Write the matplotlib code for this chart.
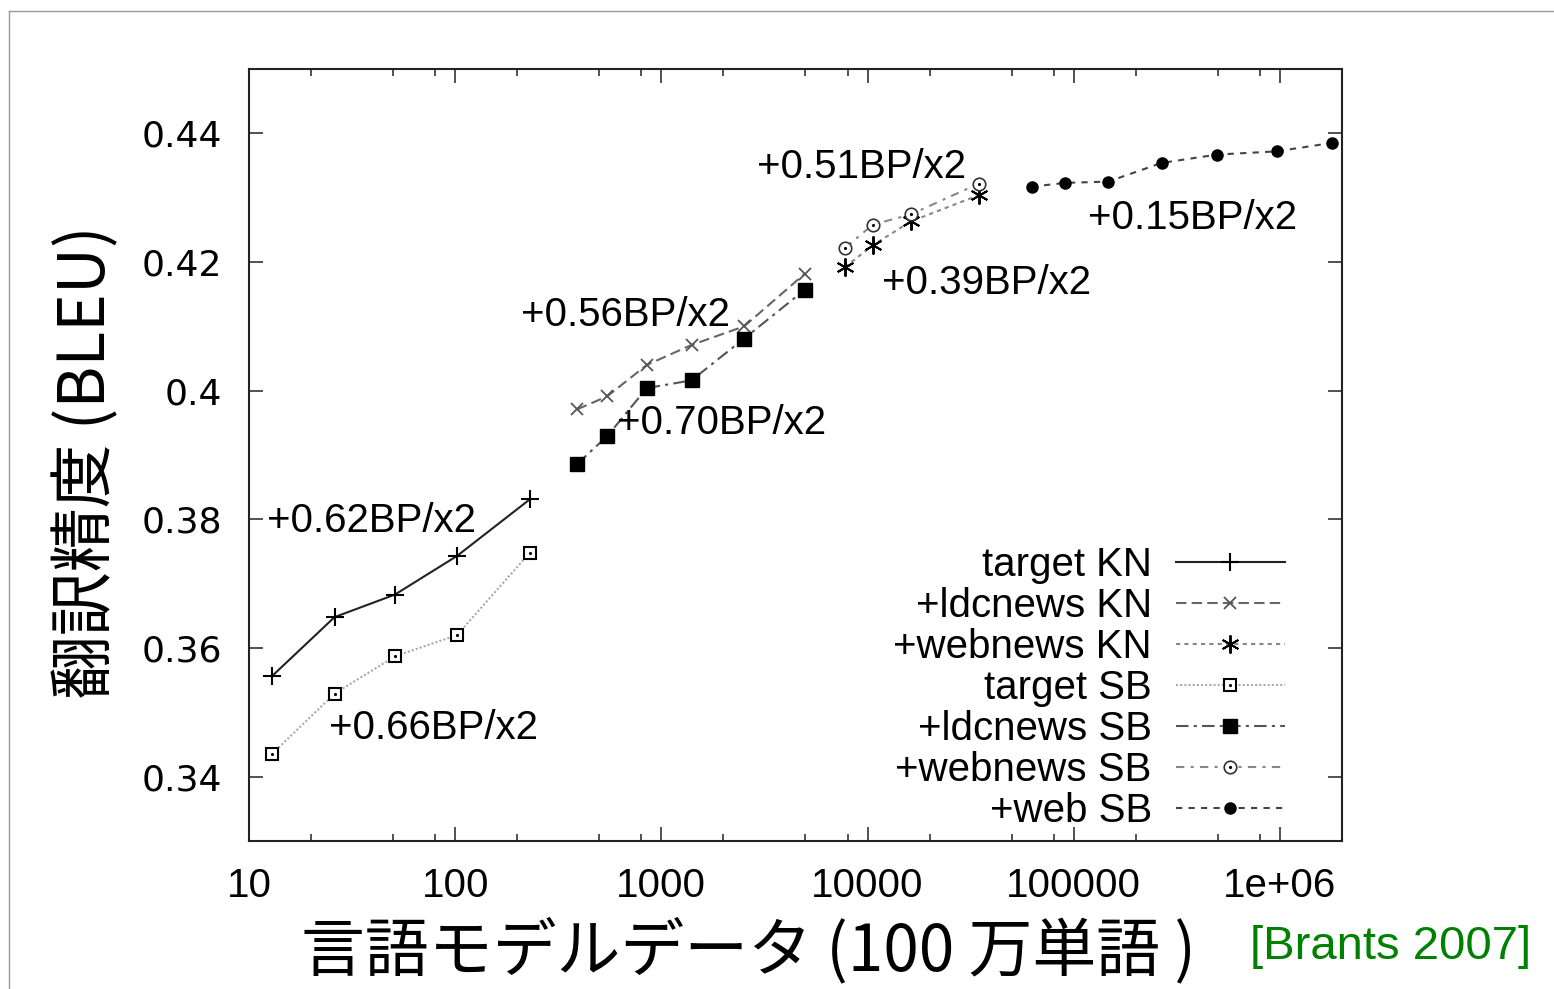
#!/usr/bin/env python3
"""BLEU vs. language model size (Brants 2007), redrawn with matplotlib."""

import matplotlib
matplotlib.use('Agg')
import matplotlib.pyplot as plt
from matplotlib.ticker import LogLocator, NullLocator, NullFormatter
from matplotlib.lines import Line2D

#--- DATA ---------------------------------------------------------------#

# target data (KN and SB share the x values)
target_x = [13, 26, 51, 102, 230]
target_kn = [0.3557, 0.3648, 0.3683, 0.3743, 0.3831]
target_sb = [0.3436, 0.3529, 0.3587, 0.3620, 0.3748]

# +ldcnews
ldc_x = [390, 545, 850, 1400, 2520, 4970]
ldc_kn = [0.3971, 0.3991, 0.4040, 0.4071, 0.4100, 0.4182]
ldc_sb = [0.3886, 0.3929, 0.4004, 0.4016, 0.4081, 0.4157]

# +webnews
wn_x = [7770, 10600, 16200, 34700]
wn_kn = [0.4192, 0.4226, 0.4263, 0.4304]
wn_sb = [0.4222, 0.4258, 0.4274, 0.4322]

# +web
web_x = [62500, 90600, 147000, 267000, 497000, 964000, 1780000]
web_sb = [0.4317, 0.4323, 0.4325, 0.4354, 0.4367, 0.4372, 0.4385]

labels = ['target KN', '+ldcnews KN', '+webnews KN', 'target SB',
          '+ldcnews SB', '+webnews SB', '+web SB']

xtick_vals = [10, 100, 1000, 10000, 100000, 1000000]
xtick_labels = ['10', '100', '1000', '10000', '100000', '1e+06']
ytick_vals = [0.34, 0.36, 0.38, 0.40, 0.42, 0.44]
ytick_labels = ['0.34', '0.36', '0.38', '0.4', '0.42', '0.44']

# slope annotations (text, x, y)
notes = [('+0.62BP/x2', 12.2, 0.3798),
         ('+0.66BP/x2', 24.4, 0.3476),
         ('+0.56BP/x2', 209, 0.4117),
         ('+0.70BP/x2', 611, 0.3949),
         ('+0.51BP/x2', 2924, 0.4347),
         ('+0.39BP/x2', 11700, 0.4167),
         ('+0.15BP/x2', 117000, 0.4269)]

#--- END DATA -----------------------------------------------------------#

plt.rcParams['font.family'] = ['Liberation Sans', 'DejaVu Sans']
jp = ['Noto Sans CJK JP', 'DejaVu Sans']

W, H = 1554, 989
fig = plt.figure(figsize=(W / 100, H / 100), dpi=100)
ax = fig.add_axes([249 / W, (H - 841) / H, 1093 / W, 772 / H])

# slide border
fig.add_artist(Line2D([9 / W, 1.0], [1 - 11 / H, 1 - 11 / H], color='#999999', lw=1.0))
fig.add_artist(Line2D([9 / W, 9 / W], [0.0, 1 - 11 / H], color='#999999', lw=1.0))

# series
h1, = ax.plot(target_x, target_kn, color='#222222', lw=1.5, marker='+', ms=13, mew=1.5,
              mec='black')
h2, = ax.plot(ldc_x, ldc_kn, color='#666666', lw=1.5, ls=(0, (5, 2.5)), marker='x', ms=9,
              mew=1.3, mec='#555555')
h3, = ax.plot(wn_x, wn_kn, color='#888888', lw=1.5, ls=(0, (2, 2)), marker=(6, 2, 0), ms=13,
              mew=1.4, mec='black')
h4, = ax.plot(target_x, target_sb, color='#aaaaaa', lw=1.5, ls=(0, (1, 1)), marker='s', ms=9,
              mew=1.5, mfc='white', mec='black')
h4d, = ax.plot(target_x, target_sb, ls='none', marker='.', ms=2.5, color='black')
h5, = ax.plot(ldc_x, ldc_sb, color='#555555', lw=1.5, ls=(0, (6, 2.5, 1.5, 2.5)), marker='s',
              ms=10, mfc='black', mec='black')
h6, = ax.plot(wn_x, wn_sb, color='#888888', lw=1.5, ls=(0, (4, 3, 1.5, 3)), marker='o', ms=9,
              mew=1.2, mfc='white', mec='#333333')
h6d, = ax.plot(wn_x, wn_sb, ls='none', marker='.', ms=2.5, color='black')
h7, = ax.plot(web_x, web_sb, color='#444444', lw=1.5, ls=(0, (3, 3)), marker='o', ms=8,
              mfc='black', mec='black')

for txt, tx, ty in notes:
    ax.text(tx, ty, txt, fontsize=29, ha='left', va='center')

ax.set_xscale('log')
ax.set_xlim(10, 2e6)
ax.set_ylim(0.33, 0.45)

ax.set_xticks(xtick_vals)
ax.set_xticklabels(xtick_labels, fontsize=29)
ax.xaxis.set_minor_locator(LogLocator(base=10, subs=(2, 5, 8)))
ax.xaxis.set_minor_formatter(NullFormatter())
ax.set_yticks(ytick_vals)
ax.set_yticklabels(ytick_labels, fontsize=26, family='DejaVu Sans')
ax.yaxis.set_minor_locator(NullLocator())

ax.tick_params(which='both', direction='in', top=True, right=True, width=1.1, color='#222222')
ax.tick_params(which='major', length=10, pad=19)
ax.tick_params(which='minor', length=5)
for s in ax.spines.values():
    s.set_linewidth(1.5)
    s.set_color('#222222')

leg = ax.legend([h1, h2, h3, (h4, h4d), h5, (h6, h6d), h7], labels, loc='lower right',
                bbox_to_anchor=(0.966, -0.012), frameon=False, markerfirst=False,
                fontsize=29, handlelength=2.7, handletextpad=0.6, labelspacing=0.075,
                borderpad=0)

fig.text(748 / W, 1 - 952 / H, '言語モデルデータ (100 万単語 )', fontsize=46, family=jp,
         ha='center', va='center')
fig.text(87 / W, 1 - 462 / H, '翻訳精度 (BLEU)', fontsize=46, family=jp, rotation=90,
         ha='center', va='center')
fig.text(1391 / W, 1 - 947 / H, '[Brants 2007]', fontsize=34, color='#008000',
         ha='center', va='center')

fig.savefig('out.png', dpi=100)
